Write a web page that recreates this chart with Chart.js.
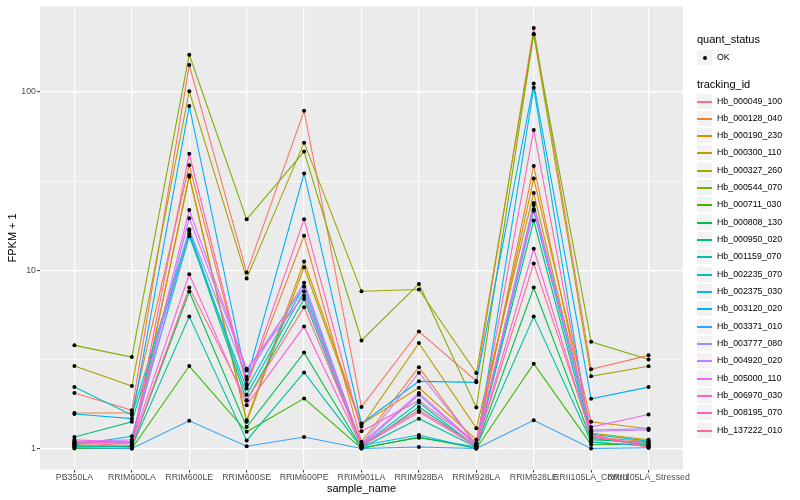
<!DOCTYPE html>
<html>
<head>
<meta charset="utf-8">
<script src="https://cdn.jsdelivr.net/npm/chart.js@4/dist/chart.umd.min.js"></script>
<style>
  html, body { margin: 0; padding: 0; background: #fff; }
  #wrap { position: relative; width: 800px; height: 500px; font-family: "Liberation Sans", Arial, sans-serif; }
  #chart { position: absolute; left: 0; top: 0; }
  .lg-title { position: absolute; left: 697px; font-size: 11px; color: #000; line-height: 13px; }
  .lg-key { position: absolute; left: 696px; width: 17px; height: 17px; background: #f2f2f2; border: 1px solid #fff; box-sizing: border-box; }
  .lg-line { position: absolute; left: 0; right: 0; top: 7px; height: 1.5px; }
  .lg-dot { position: absolute; left: 5.5px; top: 5.5px; width: 4px; height: 4px; border-radius: 50%; background: #000; }
  .lg-text { position: absolute; left: 717px; font-size: 8.8px; color: #000; line-height: 11px; }
</style>
</head>
<body>
<div id="wrap">
  <canvas id="chart" width="800" height="500"></canvas>
  <div id="legend"></div>
</div>
<script>
// categories on the x axis
const sampleNames = ['PB350LA', 'RRIM600LA', 'RRIM600LE', 'RRIM600SE', 'RRIM600PE', 'RRIM901LA',
    'RRIM928BA', 'RRIM928LA', 'RRIM928LE', 'RRII105LA_Control', 'RRII105LA_Stressed'];

const trackingIds = ['Hb_000049_100', 'Hb_000128_040', 'Hb_000190_230', 'Hb_000300_110', 'Hb_000327_260',
    'Hb_000544_070', 'Hb_000711_030', 'Hb_000808_130', 'Hb_000950_020', 'Hb_001159_070',
    'Hb_002235_070', 'Hb_002375_030', 'Hb_003120_020', 'Hb_003371_010', 'Hb_003777_080',
    'Hb_004920_020', 'Hb_005000_110', 'Hb_006970_030', 'Hb_008195_070', 'Hb_137222_010'];

// FPKM + 1, one value per sample
const hb000049_100 = [2.05, 1.64, 141.6, 9.7, 78.5, 1.71, 4.53, 2.39, 228.6, 2.78, 3.33];
const hb000128_040 = [1.58, 1.58, 38.8, 2.26, 15.6, 1.09, 2.86, 1.04, 38.5, 1.16, 1.09];
const hb000190_230 = [1.05, 1.03, 34.1, 1.44, 11.2, 1.37, 2.19, 1.12, 32.7, 1.41, 1.29];
const hb000300_110 = [1.04, 1.02, 33.5, 1.41, 10.4, 1.33, 3.90, 1.30, 27.1, 1.22, 1.12];
const hb000327_260 = [2.90, 2.24, 101, 9.0, 52, 7.62, 7.8, 2.65, 211, 2.54, 2.89];
const hb000544_070 = [3.79, 3.26, 162, 19.3, 46.3, 4.04, 8.38, 1.70, 211.7, 3.97, 3.16];
const hb000711_030 = [1.0, 1.0, 2.9, 1.24, 1.91, 1.0, 1.16, 1.0, 2.99, 1.05, 1.06];
const hb000808_130 = [1.02, 1.03, 7.6, 1.32, 3.45, 1.01, 1.15, 1.02, 8.0, 1.12, 1.08];
const hb000950_020 = [1.16, 1.41, 16.0, 1.86, 6.9, 1.02, 1.71, 1.03, 19.0, 1.14, 1.05];
const hb001159_070 = [1.03, 1.02, 5.5, 1.11, 2.67, 1.01, 1.47, 1.02, 5.5, 1.09, 1.03];
const hb002235_070 = [2.21, 1.54, 16.6, 2.0, 7.6, 1.03, 1.81, 1.02, 21.6, 1.20, 1.10];
const hb002375_030 = [1.05, 1.17, 15.5, 2.17, 8.1, 1.04, 1.19, 1.0, 105.6, 1.08, 1.04];
const hb003120_020 = [1.56, 1.47, 83.5, 2.43, 34.9, 1.38, 2.38, 2.35, 111.7, 1.90, 2.21];
const hb003371_010 = [1.01, 1.0, 1.43, 1.03, 1.16, 1.0, 1.02, 1.0, 1.44, 1.0, 1.01];
const hb003777_080 = [1.07, 1.08, 17.0, 2.52, 8.5, 1.04, 2.0, 1.04, 23.8, 1.27, 1.29];
const hb004920_020 = [1.09, 1.12, 19.6, 2.74, 8.1, 1.05, 2.66, 1.05, 23.2, 1.25, 1.27];
const hb005000_110 = [1.08, 1.10, 21.8, 2.80, 7.2, 1.06, 2.05, 1.06, 22.0, 1.32, 1.55];
const hb006970_030 = [1.12, 1.08, 9.5, 1.75, 4.84, 1.03, 1.60, 1.03, 13.2, 1.16, 1.06];
const hb008195_070 = [1.10, 1.06, 45.0, 2.30, 19.3, 1.25, 1.86, 1.07, 61.2, 1.18, 1.02];
const hb137222_010 = [1.07, 1.04, 8.0, 1.86, 6.2, 1.05, 1.64, 1.04, 10.9, 1.20, 1.01];

const seriesValues = [hb000049_100, hb000128_040, hb000190_230, hb000300_110, hb000327_260,
    hb000544_070, hb000711_030, hb000808_130, hb000950_020, hb001159_070,
    hb002235_070, hb002375_030, hb003120_020, hb003371_010, hb003777_080,
    hb004920_020, hb005000_110, hb006970_030, hb008195_070, hb137222_010];

// y axis breaks: labelled majors and the minor lines between them
const yMajorTicks = [1, 10, 100];
const yMinorTicks = [3.1623, 31.623];

// ggplot hue palette, 20 levels
const hueColors = ['#F8766D', '#EA8331', '#D89000', '#C09B00', '#A3A500', '#7CAE00', '#39B600', '#00BB4E',
    '#00BF7D', '#00C1A3', '#00BFC4', '#00BAE0', '#00B0F6', '#35A2FF', '#9590FF', '#C77CFF',
    '#E76BF3', '#FA62DB', '#FF62BC', '#FF6C91'];

const fontFamily = "'Liberation Sans', Arial, sans-serif";
const isMajor = v => yMajorTicks.some(m => Math.abs(m - v) < 1e-6);

// grey panel behind the plot
const panelBg = {
    id: 'panelBg',
    beforeDraw(chart) {
        const { ctx, chartArea: a } = chart;
        ctx.save();
        ctx.fillStyle = '#EBEBEB';
        ctx.fillRect(a.left, a.top, a.right - a.left, a.bottom - a.top);
        ctx.restore();
    }
};

const lineSets = seriesValues.map((vals, i) => ({
    label: trackingIds[i],
    data: vals.map((v, j) => ({ x: j, y: v })),
    borderColor: hueColors[i],
    backgroundColor: hueColors[i],
    borderWidth: 1.1,
    pointRadius: 0,
    fill: false,
    tension: 0,
    order: seriesValues.length - i
}));

// all points on top of the lines
const pointSet = {
    label: 'OK',
    data: seriesValues.flatMap(vals => vals.map((v, j) => ({ x: j, y: v }))),
    showLine: false,
    pointRadius: 2,
    pointBackgroundColor: '#000',
    pointBorderWidth: 0,
    order: 0
};

new Chart(document.getElementById('chart').getContext('2d'), {
    type: 'line',
    data: { datasets: [...lineSets, pointSet] },
    plugins: [panelBg],
    options: {
        responsive: false,
        animation: false,
        layout: { padding: { top: 5, right: 117, left: 0, bottom: 0 } },
        plugins: { legend: { display: false }, tooltip: { enabled: false } },
        scales: {
            x: {
                type: 'linear',
                min: -0.6,
                max: 10.6,
                afterBuildTicks: s => { s.ticks = sampleNames.map((n, i) => ({ value: i })); },
                afterFit: s => { s.height = 30.5; },
                ticks: {
                    autoSkip: false, maxRotation: 0, padding: 0,
                    color: '#4D4D4D', font: { family: fontFamily, size: 8.8 },
                    callback: v => sampleNames[v] ?? ''
                },
                grid: { color: '#FFFFFF', lineWidth: 1.2, tickColor: '#333333', tickLength: 3, tickWidth: 1 },
                border: { display: false },
                title: { display: true, text: 'sample_name', color: '#000', font: { family: fontFamily, size: 11 }, padding: { top: 0, bottom: 4 } }
            },
            y: {
                type: 'logarithmic',
                min: Math.pow(10, -0.118),
                max: Math.pow(10, 2.481),
                afterBuildTicks: s => { s.ticks = [...yMajorTicks, ...yMinorTicks].sort((a, b) => a - b).map(v => ({ value: v })); },
                afterFit: s => { s.width = 40; },
                ticks: {
                    padding: 1, color: '#4D4D4D', font: { family: fontFamily, size: 8.8 },
                    callback: v => isMajor(v) ? String(Math.round(v)) : ''
                },
                grid: {
                    color: '#FFFFFF',
                    lineWidth: c => (c.tick && isMajor(c.tick.value)) ? 1.2 : 0.6,
                    tickColor: c => (c.tick && isMajor(c.tick.value)) ? '#333333' : 'rgba(0,0,0,0)',
                    tickLength: 3,
                    tickWidth: 1
                },
                border: { display: false },
                title: { display: true, text: 'FPKM + 1', color: '#000', font: { family: fontFamily, size: 11 }, padding: { top: 6, bottom: 0 } }
            }
        }
    }
});

// legend on the right, as in ggplot
const legend = document.getElementById('legend');
let html = '<div class="lg-title" style="top:33px">quant_status</div>';
html += '<div class="lg-key" style="top:49px"><div class="lg-dot"></div></div>';
html += '<div class="lg-text" style="top:52px">OK</div>';
html += '<div class="lg-title" style="top:78px">tracking_id</div>';
trackingIds.forEach((id, i) => {
    const top = Math.round(92.5 + i * 17.33);
    html += '<div class="lg-key" style="top:' + top + 'px"><div class="lg-line" style="background:' + hueColors[i] + '"></div></div>';
    html += '<div class="lg-text" style="top:' + (top + 3) + 'px">' + id + '</div>';
});
legend.innerHTML = html;
</script>
</body>
</html>
